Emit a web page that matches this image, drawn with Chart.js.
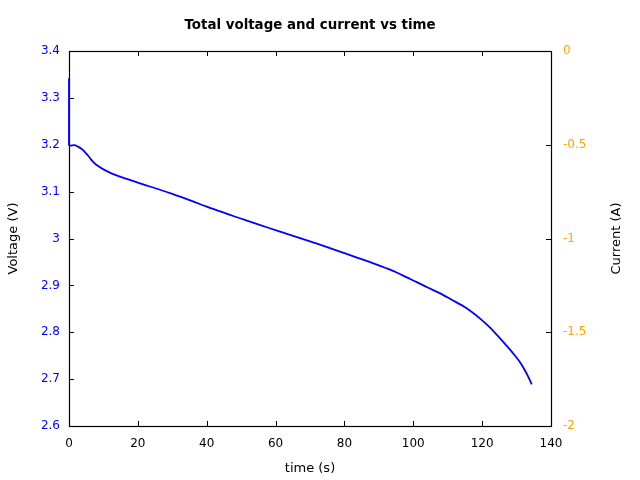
<!DOCTYPE html>
<html>
<head>
<meta charset="utf-8">
<script src="https://cdn.jsdelivr.net/npm/chart.js@4/dist/chart.umd.min.js"></script>
<style>html,body{margin:0;padding:0;background:#fff;}canvas{display:block;}</style>
</head>
<body>
<canvas id="c" width="640" height="480"></canvas>
<script>
const spikeTime = [0, 0];
const spikeVoltage = [3.342, 3.198];
const timeS = [0, 0.3, 1.5, 2.6, 4, 5.5, 6.8, 8, 12, 16.8, 20, 26.4, 30, 36, 40, 43.9, 47.7, 53, 57.4, 62, 67.1, 72, 76.8, 80, 84.5, 88.4, 92, 95, 98.1, 101, 104, 107.8, 111, 115.5, 119.4, 122, 125.2, 127, 129, 130.8, 132.4, 133.4, 134.4];
const voltageV = [3.198, 3.198, 3.199, 3.196, 3.189, 3.177, 3.165, 3.157, 3.140, 3.127, 3.119, 3.104, 3.095, 3.079, 3.068, 3.058, 3.048, 3.035, 3.024, 3.013, 3.001, 2.989, 2.977, 2.969, 2.957, 2.947, 2.937, 2.928, 2.917, 2.907, 2.896, 2.883, 2.870, 2.851, 2.829, 2.812, 2.787, 2.772, 2.755, 2.738, 2.719, 2.705, 2.689];
const xRange = [0, 140];
const voltageRange = [2.6, 3.4];
const currentRange = [-2, 0];
const titleText = 'Total voltage and current vs time';
const currentTitle = 'Current (A)';

Chart.defaults.font.family = 'DejaVu Sans';
Chart.defaults.color = '#000';

const fmt = v => String(parseFloat(Number(v).toFixed(3)));

const frameTicks = {
  id: 'frameTicks',
  beforeDatasetsDraw(chart) {
    const {ctx, chartArea: a, scales} = chart;
    const L = 5;
    ctx.save();
    ctx.strokeStyle = '#000';
    ctx.lineWidth = 1;
    ctx.beginPath();
    scales.x.ticks.forEach(t => {
      const px = Math.round(scales.x.getPixelForValue(t.value)) + 0.5;
      ctx.moveTo(px, a.bottom); ctx.lineTo(px, a.bottom - L);
      ctx.moveTo(px, a.top); ctx.lineTo(px, a.top + L);
    });
    scales.y.ticks.forEach(t => {
      const py = Math.round(scales.y.getPixelForValue(t.value)) + 0.5;
      ctx.moveTo(a.left, py); ctx.lineTo(a.left + L, py);
    });
    scales.y2.ticks.forEach(t => {
      const py = Math.round(scales.y2.getPixelForValue(t.value)) + 0.5;
      ctx.moveTo(a.right, py); ctx.lineTo(a.right - L, py);
    });
    ctx.stroke();
    ctx.lineWidth = 1.2;
    ctx.strokeRect(Math.round(a.left) + 0.5, Math.round(a.top) + 0.5, Math.round(a.right - a.left), Math.round(a.bottom - a.top));
    ctx.restore();
  },
  afterDraw(chart) {
    const {ctx, chartArea: a} = chart;
    ctx.save();
    ctx.fillStyle = '#000';
    ctx.textAlign = 'center';
    ctx.textBaseline = 'middle';
    ctx.font = 'bold 13.4px "DejaVu Sans"';
    ctx.fillText(titleText, (a.left + a.right) / 2, 26);
    ctx.font = '13px "DejaVu Sans"';
    ctx.translate(617, (a.top + a.bottom) / 2);
    ctx.rotate(-Math.PI / 2);
    ctx.fillText(currentTitle, 0, 0);
    ctx.restore();
  }
};

new Chart(document.getElementById('c'), {
  type: 'line',
  data: {
    datasets: [{
      label: 'Voltage',
      data: timeS.map((t, i) => ({x: t, y: voltageV[i]})),
      borderColor: '#0000ff',
      borderWidth: 1.8,
      pointRadius: 0,
      cubicInterpolationMode: 'monotone',
      fill: false,
      clip: 4,
      yAxisID: 'y'
    }, {
      label: 'Voltage spike',
      data: spikeTime.map((t, i) => ({x: t, y: spikeVoltage[i]})),
      borderColor: '#0000ff',
      borderWidth: 1.8,
      pointRadius: 0,
      tension: 0,
      fill: false,
      clip: 4,
      yAxisID: 'y'
    }]
  },
  options: {
    responsive: false,
    animation: false,
    layout: {padding: {top: 51, left: 0, right: 0, bottom: 0}},
    plugins: {
      legend: {display: false},
      tooltip: {enabled: false},
      title: {display: false}
    },
    scales: {
      x: {
        type: 'linear',
        position: 'bottom',
        min: xRange[0], max: xRange[1],
        grid: {display: false, drawTicks: false},
        border: {display: false},
        ticks: {stepSize: 20, padding: 11, font: {size: 12}, color: '#000', callback: fmt, maxRotation: 0},
        title: {display: true, text: 'time (s)', font: {size: 13}, color: '#000', padding: {top: 0, bottom: 3.2}},
        afterFit(s) { s.height = 54; }
      },
      y: {
        type: 'linear',
        position: 'left',
        min: voltageRange[0], max: voltageRange[1],
        grid: {display: false, drawTicks: false},
        border: {display: false},
        ticks: {stepSize: 0.1, padding: 9, font: {size: 12}, color: '#0000ff', callback: fmt},
        title: {display: true, text: 'Voltage (V)', font: {size: 13}, color: '#000', padding: {top: 6.2, bottom: 0}},
        afterFit(s) { s.width = 69; }
      },
      y2: {
        type: 'linear',
        position: 'right',
        min: currentRange[0], max: currentRange[1],
        grid: {display: false, drawTicks: false},
        border: {display: false},
        ticks: {stepSize: 0.5, padding: 12, font: {size: 12}, color: '#ffa500', callback: fmt},
        title: {display: false},
        afterFit(s) { s.width = 89; }
      }
    }
  },
  plugins: [frameTicks]
});
</script>
</body>
</html>
